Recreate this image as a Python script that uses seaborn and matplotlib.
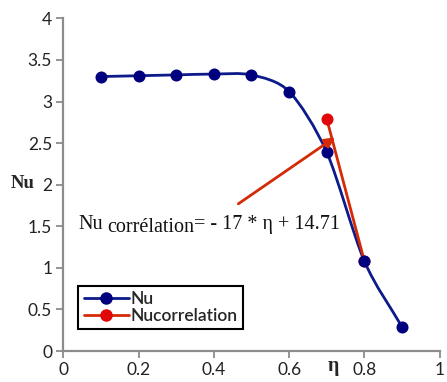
import numpy as np
import pandas as pd
import matplotlib
matplotlib.use("Agg")
import matplotlib.pyplot as plt
from matplotlib.path import Path
from matplotlib.patches import PathPatch
from matplotlib.lines import Line2D
import seaborn as sns

# ---- data ----
eta_nu = [0.1, 0.2, 0.3, 0.4, 0.5, 0.6, 0.7, 0.8, 0.9]
nu_vals = [3.30, 3.31, 3.32, 3.33, 3.32, 3.12, 2.39, 1.08, 0.29]
eta_corr = [0.7, 0.8]
corr_vals = [2.79, 1.08]
x_ticks = [0, 0.2, 0.4, 0.6, 0.8, 1]
x_tick_labels = ["0", "0.2", "0.4", "0.6", "0.8", "1"]
y_ticks = [0, 0.5, 1, 1.5, 2, 2.5, 3, 3.5, 4]
y_tick_labels = ["0", "0.5", "1", "1.5", "2", "2.5", "3", "3.5", "4"]

BLUE_LINE = "#0d1a8a"
BLUE_MK = "#00007f"
RED_LINE = "#d42a06"
RED_MK = "#e00808"
SPINE = "#8c8c8c"

sns.set_theme(style="white")
plt.rcParams["font.family"] = ["Lato", "DejaVu Sans"]

fig = plt.figure(figsize=(4.47, 3.82), dpi=100)
ax = fig.add_axes([0.1416, 0.081, 0.842, 0.871])

df_nu = pd.DataFrame({"eta": eta_nu, "Nu": nu_vals})
df_corr = pd.DataFrame({"eta": eta_corr, "Nu": corr_vals})

# smooth blue curve (Catmull-Rom style Bezier through the data points)
pts = np.column_stack([eta_nu, nu_vals])
ext = np.vstack([pts[0] - (pts[1] - pts[0]), pts, pts[-1] + (pts[-1] - pts[-2])])
verts = [tuple(pts[0])]
codes = [Path.MOVETO]
k = 7.0
for i in range(1, len(ext) - 2):
    p0, p1, p2, p3 = ext[i - 1], ext[i], ext[i + 1], ext[i + 2]
    c1 = p1 + (p2 - p0) / k
    c2 = p2 - (p3 - p1) / k
    verts += [tuple(c1), tuple(c2), tuple(p2)]
    codes += [Path.CURVE4] * 3
ax.add_patch(PathPatch(Path(verts, codes), facecolor="none",
                       edgecolor=BLUE_LINE, lw=2.0, zorder=2))

# red correlation line
sns.lineplot(data=df_corr, x="eta", y="Nu", ax=ax, color=RED_LINE,
             lw=2.0, zorder=3, legend=False)

# markers
sns.scatterplot(data=df_nu, x="eta", y="Nu", ax=ax, color=BLUE_MK, s=75,
                edgecolor=BLUE_MK, linewidth=0, zorder=5, legend=False)
sns.scatterplot(data=df_corr, x="eta", y="Nu", ax=ax, color=RED_MK, s=75,
                edgecolor=RED_MK, linewidth=0, zorder=4, legend=False)

# arrow
ax.annotate("", xy=(0.722, 2.57), xytext=(0.465, 1.77),
            arrowprops=dict(arrowstyle="-|>,head_length=0.5,head_width=0.25",
                            color=RED_LINE, lw=2.0, shrinkA=0, shrinkB=0),
            zorder=6)

# equation text
serif = ["Liberation Serif", "DejaVu Serif"]
fs_eq = 14.5
t1 = ax.text(0.04, 1.47, "Nu", family=serif, fontsize=fs_eq, color="#111111",
             ha="left", va="baseline")
t2 = ax.annotate("corrélation", xy=(1, 0), xycoords=t1, xytext=(3, -2.5),
                 textcoords="offset points", family=serif, fontsize=fs_eq,
                 color="#111111", ha="left", va="bottom")
ax.annotate("= - 17 * η + 14.71", xy=(1, 0), xycoords=t2, xytext=(0, 2.5),
            textcoords="offset points", family=serif, fontsize=fs_eq,
            color="#111111", ha="left", va="bottom")

# axes styling
ax.set_xlim(0, 1)
ax.set_ylim(0, 4)
ax.set_xticks(x_ticks)
ax.set_xticklabels(x_tick_labels)
ax.set_yticks(y_ticks)
ax.set_yticklabels(y_tick_labels)
ax.tick_params(axis="both", direction="out", length=5, width=1.3,
               color=SPINE, labelsize=12.5, labelcolor="#222222", pad=3,
               bottom=True, left=True)
for s in ["top", "right"]:
    ax.spines[s].set_visible(False)
for s in ["left", "bottom"]:
    ax.spines[s].set_color(SPINE)
    ax.spines[s].set_linewidth(1.6)
ax.set_xlabel("")
ax.set_ylabel("")
fig.text(0.05, 0.52, "Nu", family=serif, fontsize=13.5, fontweight="bold",
         ha="center", va="center")
fig.text(0.745, 0.042, "η", family=serif, fontsize=14.5, fontweight="bold",
         ha="center", va="center")

# legend
handles = [
    Line2D([0], [0], color=BLUE_LINE, lw=2.0, marker="o", markersize=8,
           markerfacecolor=BLUE_MK, markeredgecolor=BLUE_MK),
    Line2D([0], [0], color=RED_LINE, lw=2.0, marker="o", markersize=8,
           markerfacecolor=RED_MK, markeredgecolor=RED_MK),
]
leg = ax.legend(handles, ["Nu", "Nucorrelation"], loc="lower left",
                bbox_to_anchor=(0.04, 0.065), frameon=True, fancybox=False,
                edgecolor="black", framealpha=1, handlelength=2.6,
                handletextpad=0.1, borderpad=0.3, labelspacing=0.05,
                borderaxespad=0,
                prop={"family": ["Lato", "DejaVu Sans"], "size": 12.5,
                      "weight": "semibold"})
leg.get_frame().set_linewidth(1.5)

fig.savefig("out.png", dpi=100)
